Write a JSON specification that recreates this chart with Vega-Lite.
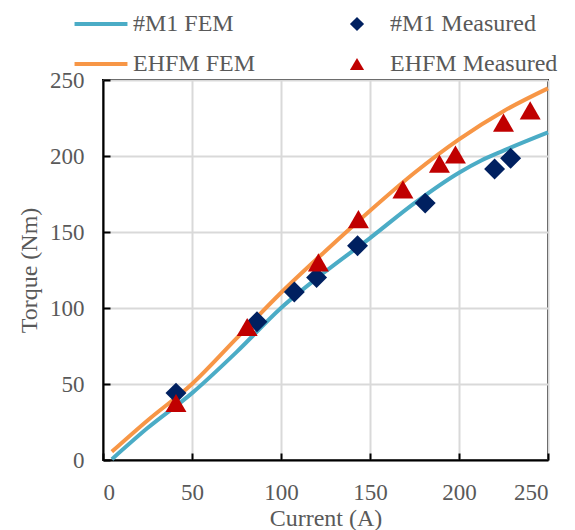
{
  "$schema": "https://vega.github.io/schema/vega-lite/v6.json",
  "width": 445,
  "height": 380,
  "autosize": {"type": "none"},
  "padding": {"left": 103, "top": 80, "right": 27, "bottom": 70},
  "background": "white",
  "config": {
    "view": {"stroke": "black", "strokeWidth": 2},
    "font": "Liberation Serif",
    "axis": {
      "labelFont": "Liberation Serif",
      "labelFontSize": 23,
      "labelColor": "#595959",
      "titleFont": "Liberation Serif",
      "titleFontSize": 24,
      "titleFontWeight": "normal",
      "titleColor": "#595959",
      "gridColor": "#d9d9d9",
      "gridWidth": 2,
      "domainColor": "black",
      "domainWidth": 2,
      "tickColor": "black",
      "tickWidth": 2,
      "tickSize": -7
    },
    "legend": {
      "labelFont": "Liberation Serif",
      "labelFontSize": 24,
      "labelColor": "#595959",
      "labelLimit": 0,
      "padding": 0
    }
  },
  "data": {
    "values": [
      {"kind": "FEM", "series": "#M1 FEM", "current": 5, "torque": 0.5},
      {"kind": "FEM", "series": "#M1 FEM", "current": 25, "torque": 21},
      {"kind": "FEM", "series": "#M1 FEM", "current": 50, "torque": 44},
      {"kind": "FEM", "series": "#M1 FEM", "current": 75, "torque": 71},
      {"kind": "FEM", "series": "#M1 FEM", "current": 100, "torque": 100},
      {"kind": "FEM", "series": "#M1 FEM", "current": 125, "torque": 124},
      {"kind": "FEM", "series": "#M1 FEM", "current": 150, "torque": 146},
      {"kind": "FEM", "series": "#M1 FEM", "current": 175, "torque": 169},
      {"kind": "FEM", "series": "#M1 FEM", "current": 200, "torque": 189},
      {"kind": "FEM", "series": "#M1 FEM", "current": 212.5, "torque": 197},
      {"kind": "FEM", "series": "#M1 FEM", "current": 225, "torque": 203.5},
      {"kind": "FEM", "series": "#M1 FEM", "current": 250, "torque": 215.5},
      {"kind": "FEM", "series": "EHFM FEM", "current": 5, "torque": 5.5},
      {"kind": "FEM", "series": "EHFM FEM", "current": 25, "torque": 26},
      {"kind": "FEM", "series": "EHFM FEM", "current": 50, "torque": 50},
      {"kind": "FEM", "series": "EHFM FEM", "current": 75, "torque": 80},
      {"kind": "FEM", "series": "EHFM FEM", "current": 100, "torque": 110},
      {"kind": "FEM", "series": "EHFM FEM", "current": 125, "torque": 137.5},
      {"kind": "FEM", "series": "EHFM FEM", "current": 150, "torque": 164},
      {"kind": "FEM", "series": "EHFM FEM", "current": 175, "torque": 189},
      {"kind": "FEM", "series": "EHFM FEM", "current": 200, "torque": 211},
      {"kind": "FEM", "series": "EHFM FEM", "current": 225, "torque": 229.5},
      {"kind": "FEM", "series": "EHFM FEM", "current": 250, "torque": 244.5},
      {"kind": "Measured", "series": "#M1 Measured", "current": 41, "torque": 44},
      {"kind": "Measured", "series": "#M1 Measured", "current": 86.5, "torque": 91},
      {"kind": "Measured", "series": "#M1 Measured", "current": 107.5, "torque": 110.5},
      {"kind": "Measured", "series": "#M1 Measured", "current": 120, "torque": 120},
      {"kind": "Measured", "series": "#M1 Measured", "current": 143, "torque": 141},
      {"kind": "Measured", "series": "#M1 Measured", "current": 181, "torque": 169},
      {"kind": "Measured", "series": "#M1 Measured", "current": 220, "torque": 191.5},
      {"kind": "Measured", "series": "#M1 Measured", "current": 229, "torque": 198.5},
      {"kind": "Measured", "series": "EHFM Measured", "current": 41, "torque": 37.5},
      {"kind": "Measured", "series": "EHFM Measured", "current": 81, "torque": 87.5},
      {"kind": "Measured", "series": "EHFM Measured", "current": 121, "torque": 130},
      {"kind": "Measured", "series": "EHFM Measured", "current": 143.5, "torque": 158.5},
      {"kind": "Measured", "series": "EHFM Measured", "current": 168.5, "torque": 178},
      {"kind": "Measured", "series": "EHFM Measured", "current": 189, "torque": 195},
      {"kind": "Measured", "series": "EHFM Measured", "current": 198, "torque": 201},
      {"kind": "Measured", "series": "EHFM Measured", "current": 225, "torque": 222},
      {"kind": "Measured", "series": "EHFM Measured", "current": 240, "torque": 230}
    ]
  },
  "encoding": {
    "x": {
      "field": "current",
      "type": "quantitative",
      "scale": {"domain": [0, 250], "nice": false},
      "axis": {"values": [0, 50, 100, 150, 200, 250], "title": "Current (A)", "labelPadding": 28, "titlePadding": 2}
    },
    "y": {
      "field": "torque",
      "type": "quantitative",
      "scale": {"domain": [0, 250], "nice": false},
      "axis": {"values": [0, 50, 100, 150, 200, 250], "title": "Torque (Nm)", "labelPadding": 26, "titlePadding": 8}
    }
  },
  "layer": [
    {
      "transform": [{"filter": "datum.kind === 'FEM'"}],
      "mark": {"type": "line", "strokeWidth": 4, "interpolate": "monotone"},
      "encoding": {
        "stroke": {
          "field": "series",
          "type": "nominal",
          "scale": {"domain": ["#M1 FEM", "EHFM FEM"], "range": ["#4BACC6", "#F79646"]},
          "legend": {
            "title": null,
            "orient": "none",
            "legendX": -14,
            "legendY": -68,
            "symbolType": "M-4,0H4",
            "symbolSize": 175,
            "symbolStrokeWidth": 4,
            "labelOffset": 20,
            "rowPadding": 16
          }
        }
      }
    },
    {
      "transform": [{"filter": "datum.kind === 'Measured'"}],
      "mark": {"type": "point", "filled": true, "opacity": 1, "size": 440},
      "encoding": {
        "fill": {
          "field": "series",
          "type": "nominal",
          "scale": {"domain": ["#M1 Measured", "EHFM Measured"], "range": ["#002060", "#C00000"]},
          "legend": {
            "title": null,
            "orient": "none",
            "legendX": 242,
            "legendY": -68,
            "symbolSize": 200,
            "labelOffset": 21,
            "rowPadding": 16
          }
        },
        "shape": {
          "field": "series",
          "type": "nominal",
          "scale": {"domain": ["#M1 Measured", "EHFM Measured"], "range": ["diamond", "triangle-up"]},
          "legend": {
            "title": null,
            "orient": "none",
            "legendX": 242,
            "legendY": -68,
            "symbolSize": 200,
            "labelOffset": 21,
            "rowPadding": 16
          }
        }
      }
    }
  ]
}
